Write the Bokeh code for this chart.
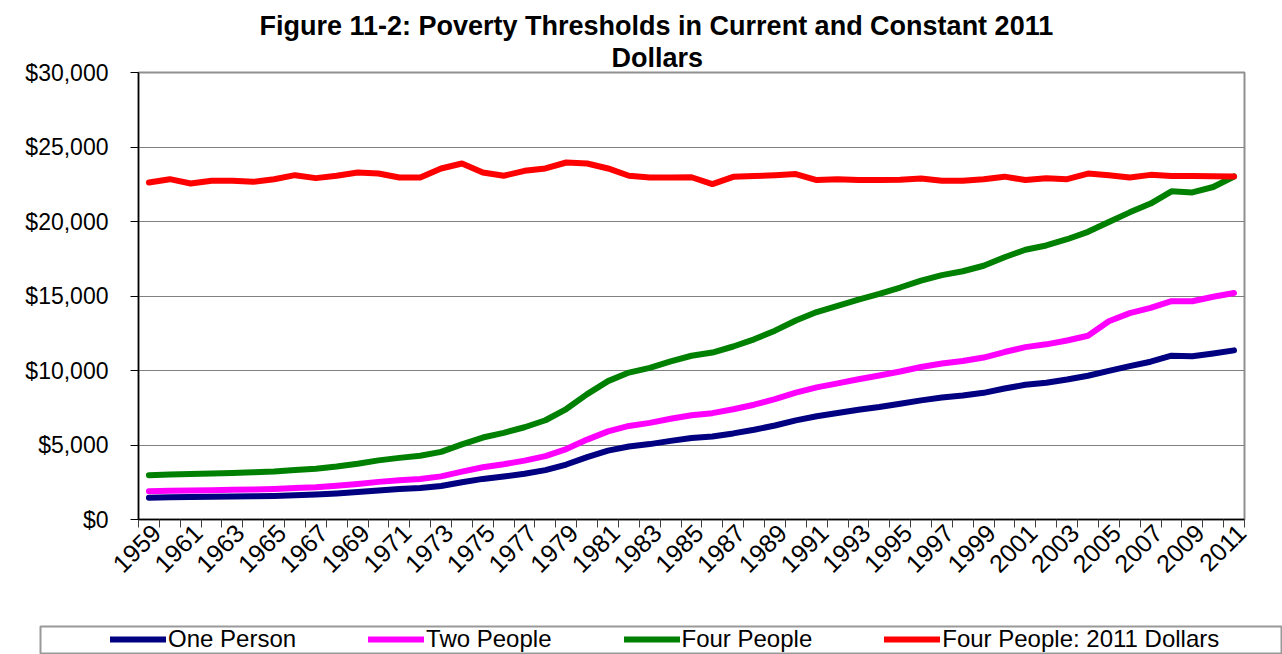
import math
from bokeh.plotting import figure
from bokeh.models import (Range1d, FixedTicker, NumeralTickFormatter, Legend, LegendItem,
                          Title, ColumnDataSource, CustomJSTickFormatter)
from bokeh.embed import file_html
from bokeh.resources import INLINE

years = list(range(1959, 2012))
one_person = [1467, 1490, 1506, 1519, 1540, 1558, 1582, 1628, 1675, 1748,
              1840, 1954, 2040, 2109, 2247, 2495, 2724, 2884, 3075, 3311,
              3689, 4190, 4620, 4901, 5061, 5278, 5469, 5572, 5778, 6022,
              6310, 6652, 6932, 7143, 7363, 7547, 7763, 7995, 8183, 8316,
              8501, 8791, 9039, 9183, 9393, 9645, 9973, 10294, 10590, 10991,
              10956, 11139, 11350]
two_people = [1894, 1924, 1944, 1967, 1990, 2017, 2048, 2107, 2168, 2262,
              2383, 2525, 2633, 2724, 2895, 3211, 3506, 3711, 3951, 4249,
              4725, 5363, 5917, 6281, 6483, 6762, 6998, 7138, 7397, 7704,
              8076, 8509, 8865, 9137, 9414, 9661, 9933, 10233, 10473, 10634,
              10869, 11239, 11569, 11756, 12015, 12334, 13300, 13850, 14200, 14650,
              14650, 14950, 15200]
four_people = [2973, 3022, 3054, 3089, 3128, 3169, 3223, 3317, 3410, 3553,
               3743, 3968, 4137, 4275, 4540, 5038, 5500, 5815, 6191, 6662,
               7412, 8414, 9287, 9862, 10178, 10609, 10989, 11203, 11611, 12092,
               12674, 13359, 13924, 14335, 14763, 15141, 15569, 16036, 16400, 16660,
               17029, 17603, 18104, 18392, 18810, 19307, 19971, 20614, 21203, 22025,
               21954, 22314, 23021]
four_people_2011 = [22620, 22840, 22550, 22730, 22730, 22660, 22840, 23110, 22910, 23070,
                    23290, 23220, 22950, 22950, 23560, 23890, 23290, 23070, 23400, 23560,
                    23960, 23890, 23560, 23070, 22950, 22950, 22970, 22510, 23000, 23050,
                    23100, 23180, 22780, 22840, 22780, 22780, 22800, 22890, 22730, 22730,
                    22840, 23010, 22780, 22910, 22840, 23220, 23110, 22950, 23130, 23050,
                    23050, 23030, 23021]
series_names = ["One Person", "Two People", "Four People", "Four People: 2011 Dollars"]
series_cols = ["one", "two", "four", "four2011"]
series_colors = ["#000080", "#FF00FF", "#008000", "#FF0000"]
y_ticks = [0, 5000, 10000, 15000, 20000, 25000, 30000]
title_lines = ["Figure 11-2: Poverty Thresholds in Current and Constant 2011", "Dollars"]

source = ColumnDataSource(dict(year=years, one=one_person, two=two_people,
                               four=four_people, four2011=four_people_2011))

FONT = "Liberation Sans"
LABEL_SHIFT = 0.35

p = figure(width=1282, height=622, output_backend="svg", toolbar_location=None,
           x_range=Range1d(1958.5, 2011.5), y_range=Range1d(0, 30000),
           min_border_left=138, min_border_right=38, min_border_top=72, min_border_bottom=103)
p.background_fill_color = "white"
p.border_fill_color = "white"
p.outline_line_color = "#909090"
p.outline_line_width = 2

# two-line title
p.title.text = title_lines[0]
p.title.text_font = FONT
p.title.text_font_style = "bold"
p.title.text_font_size = "27px"
p.title.text_color = "black"
p.title.align = "left"
p.title.offset = 121
p.title.standoff = 0
p.add_layout(Title(text=title_lines[1], text_font=FONT, text_font_style="bold",
                   text_font_size="27px", text_color="black", align="left",
                   offset=473, standoff=0), "above")

for col, color in zip(series_cols, series_colors):
    p.line("year", col, source=source, line_color=color, line_width=6,
           line_cap="round", line_join="round")

# x axis: labels every second year, tick marks between categories
p.xaxis.ticker = FixedTicker(ticks=[y + LABEL_SHIFT for y in years if (y - 1959) % 2 == 0],
                             minor_ticks=[y - 0.5 for y in years] + [years[-1] + 0.5])
p.xaxis.formatter = CustomJSTickFormatter(code="return String(Math.round(tick - %s));" % LABEL_SHIFT)
p.xaxis.major_tick_out = 0
p.xaxis.major_tick_in = 0
p.xaxis.minor_tick_out = 8
p.xaxis.minor_tick_in = 0
p.xaxis.minor_tick_line_color = "#404040"
p.xaxis.axis_line_color = "black"
p.xaxis.axis_line_width = 1.5
p.xaxis.major_label_orientation = math.pi / 4
p.xaxis.major_label_text_font = FONT
p.xaxis.major_label_text_font_size = "25px"
p.xaxis.major_label_text_color = "black"
p.xaxis.major_label_standoff = 1

# y axis
p.yaxis.ticker = FixedTicker(ticks=y_ticks)
p.yaxis.formatter = NumeralTickFormatter(format="$0,0")
p.yaxis.major_tick_out = 8
p.yaxis.major_tick_in = 0
p.yaxis.minor_tick_out = 0
p.yaxis.minor_tick_in = 0
p.yaxis.major_tick_line_color = "black"
p.yaxis.axis_line_color = "black"
p.yaxis.axis_line_width = 1.5
p.yaxis.major_label_text_font = FONT
p.yaxis.major_label_text_font_size = "23px"
p.yaxis.major_label_text_color = "black"
p.yaxis.major_label_standoff = 22

p.xgrid.visible = False
p.ygrid.grid_line_color = "#808080"
p.ygrid.grid_line_width = 1

# legend strip below the chart (its own root, so its frame is not aligned to the chart)
lf = figure(width=1282, height=32, output_backend="svg", toolbar_location=None,
            x_range=Range1d(0, 1), y_range=Range1d(0, 1),
            x_axis_location=None, y_axis_location=None,
            min_border_left=40, min_border_right=0, min_border_top=4, min_border_bottom=0)
lf.title.text = ""
lf.xgrid.visible = False
lf.ygrid.visible = False
lf.outline_line_color = "#999999"
lf.outline_line_width = 2
lf.border_fill_color = "white"

# legend entries reuse the data; the lines themselves fall outside this strip's range
proxies = [lf.line("year", col, source=source, line_color=c, line_width=6, line_cap="round")
           for col, c in zip(series_cols, series_colors)]
legend = Legend(items=[LegendItem(label=n, renderers=[r]) for n, r in zip(series_names, proxies)],
                orientation="horizontal", location=(69, 0), padding=1, spacing=72,
                glyph_width=56, glyph_height=20, label_standoff=2, margin=0,
                label_text_font=FONT, label_text_font_size="24px", label_text_color="black",
                border_line_alpha=0, background_fill_alpha=0)
lf.add_layout(legend)

open("out.html", "w").write(file_html([p, lf], INLINE))
